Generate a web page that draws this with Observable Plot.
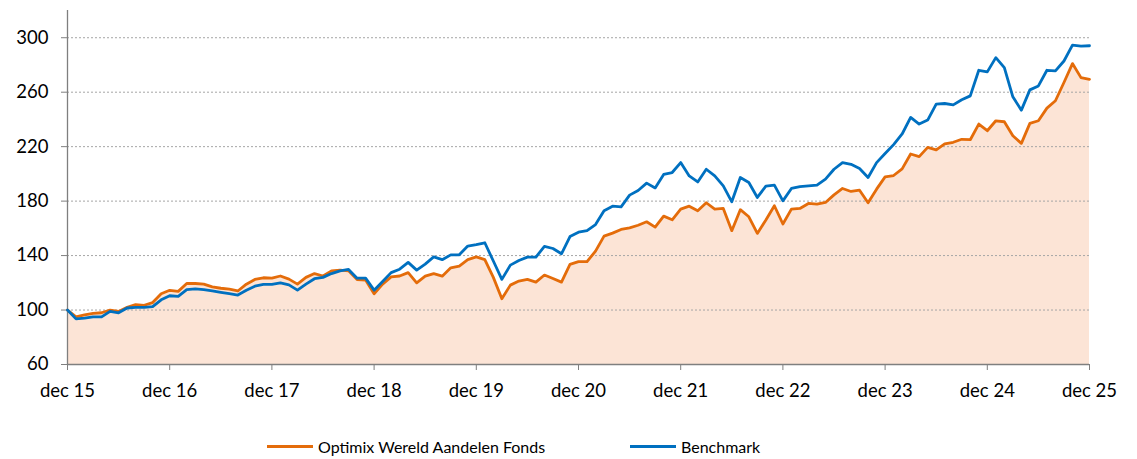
<!DOCTYPE html>
<html>
<head>
<meta charset="utf-8">
<script src="https://cdn.jsdelivr.net/npm/d3@7"></script>
<script src="https://cdn.jsdelivr.net/npm/@observablehq/plot@0.6"></script>
<style>
  html, body { margin: 0; padding: 0; background: #fff; }
  #wrap { position: relative; width: 1137px; height: 459px; font-family: Lato, "Open Sans", sans-serif; }
  #legend { position: absolute; top: 400px; left: 0; width: 1137px; height: 59px; }
  .item { position: absolute; top: 35px; height: 22px; display: flex; align-items: center; font-size: 16px; color: #000; }
  .swatch { width: 46px; height: 3px; margin-right: 5px; }
</style>
</head>
<body>
<div id="wrap">
  <div id="chart"></div>
  <div id="legend"></div>
</div>
<script>
const seriesNames = ["Optimix Wereld Aandelen Fonds", "Benchmark"];
const seriesColors = ["#E46C0A", "#0070C0"];
const xTickLabels = ["dec 15","dec 16","dec 17","dec 18","dec 19","dec 20","dec 21","dec 22","dec 23","dec 24","dec 25"];
const yTicks = [60, 100, 140, 180, 220, 260, 300];

const fonds = [100,95,96.5,97.5,98,100,99,102,104,103.5,105.5,112,114.5,113.7,119.5,119.5,119,117,116,115.3,114,119,122.5,123.7,123.4,125,122.7,119,124,126.8,125,128.8,129.3,128.8,122.4,122,112,119,124.4,125,127.5,120,124.9,126.8,124.9,131,132.3,137,139,137,124,108.3,118.3,121.3,122.5,120.5,125.7,123.2,120.5,133.5,135.5,135.5,143.3,154.3,156.5,159.2,160.4,162.3,164.8,160.9,169,166.3,174.1,176.3,172.9,178.8,174.1,174.6,158.3,173.7,168.5,156.3,166.1,176.6,163.2,174.1,174.6,178.3,177.8,179,184.6,189.3,187.1,188,178.8,188.8,197.8,198.8,203.7,214.6,212.7,219.5,217.6,222,223.2,225.4,225.1,236.6,231.7,239,238.3,228,222.4,237.1,239,248.3,253.7,267.1,281,270.7,269.5];

const benchmark = [100,93.5,94,95,95,99,98,101.5,102,102,102.5,107.5,110.5,110,115,115.5,115,114,113,112,111,114.5,117.5,118.8,118.8,120,118.5,114.6,119,123,124,126.8,128.8,129.8,123.4,123.4,114.6,121,127.5,130,135,129.3,133.7,139,137,140.5,140.6,147,148,149.4,136,122.5,133,136.4,138.9,138.9,146.7,145.2,141.3,154,157.2,158.4,162.8,173,176.3,175.8,184.4,187.8,193.2,189.7,199.6,201,208.3,198.5,194.1,203.4,198.5,191.2,179.5,197.3,193.7,182.7,191,191.7,180.2,189.3,190.7,191.2,191.7,196.1,203.4,208.3,207,203.9,197.3,208.3,215,221.5,229.3,241.5,236.6,239.5,251.2,251.7,250.7,254.4,257.3,276.1,274.9,285.4,278,256.6,246.8,261.7,264.6,276.1,275.6,282.9,294.6,293.9,294.1];

const rows = fonds.map((v, i) => ({m: i, fonds: v, bench: benchmark[i]}));
const xTicks = xTickLabels.map((_, k) => k * 12);

const chart = Plot.plot({
  width: 1137,
  height: 400,
  marginLeft: 67,
  marginRight: 48,
  marginTop: 10,
  marginBottom: 36,
  style: {fontFamily: "Lato, 'Open Sans', sans-serif", fontSize: "18.5px", color: "#000", background: "#fff"},
  x: {domain: [0, 120]},
  y: {domain: [60, 320]},
  marks: [
    Plot.areaY(rows, {x: "m", y1: 60, y2: "fonds", fill: "#FCE4D6", curve: "linear"}),
    Plot.gridY(yTicks.filter(t => t > 60), {stroke: "#A6A6A6", strokeOpacity: 1, strokeDasharray: "2,2", strokeWidth: 1}),
    Plot.ruleX([0], {y1: 60, y2: 320, stroke: "#7F7F7F", strokeWidth: 1.3}),
    Plot.ruleY([60], {stroke: "#7F7F7F", strokeWidth: 1.3}),
    Plot.axisY({ticks: yTicks, tickSize: 6, tickPadding: 13, stroke: "#7F7F7F", label: null, tickFormat: d => String(d)}),
    Plot.axisX({ticks: xTicks, tickSize: 6, tickPadding: 13, stroke: "#7F7F7F", label: null, tickFormat: d => xTickLabels[Math.round(d / 12)]}),
    Plot.lineY(rows, {x: "m", y: "fonds", stroke: seriesColors[0], strokeWidth: 2.8}),
    Plot.lineY(rows, {x: "m", y: "bench", stroke: seriesColors[1], strokeWidth: 2.8})
  ]
});
document.getElementById("chart").appendChild(chart);

const legend = document.getElementById("legend");
const lefts = [267, 630];
seriesNames.forEach((name, k) => {
  const it = document.createElement("div");
  it.className = "item";
  it.style.left = lefts[k] + "px";
  const sw = document.createElement("div");
  sw.className = "swatch";
  sw.style.background = seriesColors[k];
  const tx = document.createElement("span");
  tx.textContent = name;
  it.appendChild(sw);
  it.appendChild(tx);
  legend.appendChild(it);
});
</script>
</body>
</html>
